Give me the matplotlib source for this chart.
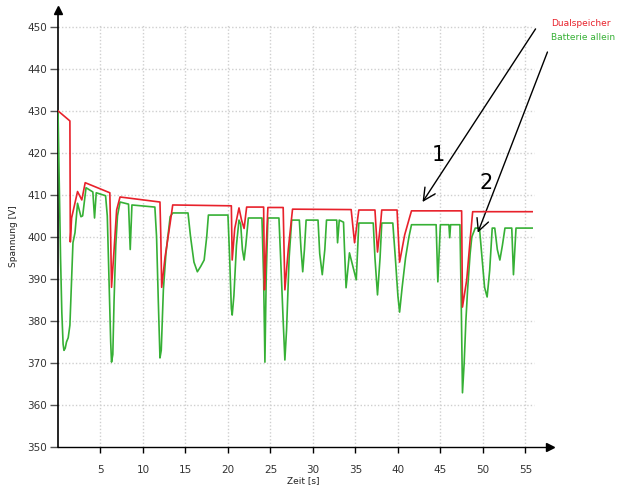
import matplotlib
matplotlib.use("Agg")
import matplotlib.pyplot as plt

# ---- data ----
t_dual = [0, 1.4, 1.45, 1.6, 2.3, 2.8, 3.2, 6.1, 6.2, 6.3, 6.6, 6.9, 7.3, 12.0, 12.1, 12.2,
          12.6, 13.2, 13.5, 20.4, 20.5, 20.8, 21.3, 21.6, 21.9, 22.2, 24.2, 24.3, 24.45, 24.7,
          26.5, 26.7, 27.1, 27.6, 34.5, 34.9, 35.4, 37.3, 37.6, 38.0, 38.1, 39.9, 40.2, 40.8,
          41.4, 41.6, 47.5, 47.6, 48.1, 48.5, 48.8, 55.8]
v_dual = [430, 427.6, 398.8, 404.5, 410.8, 408.8, 412.9, 410.5, 400, 388, 397, 406.4, 409.5,
          408.3, 400, 388, 395.2, 403.3, 407.6, 407.4, 394.5, 402, 406.9, 404, 402, 407.1,
          407.1, 387.4, 395, 407, 407, 387.4, 397, 406.6, 406.5, 398.6, 406.4, 406.4, 396.4,
          404, 406.4, 406.4, 394, 400.5, 404.8, 406.2, 406.2, 383.3, 389.8, 399.3, 406, 406]

t_batt = [0, 0.05, 0.15, 0.3, 0.45, 0.6, 0.7, 0.85, 1.0, 1.2, 1.4, 1.6, 1.76, 2.0, 2.3, 2.7,
          2.9, 3.3, 4.1, 4.3, 4.5, 5.6, 5.8, 6.0, 6.2, 6.3, 6.45, 6.6, 6.8, 7.0, 7.3, 8.3, 8.5,
          8.7, 11.4, 11.6, 11.8, 12.0, 12.15, 12.4, 12.7, 13.2, 13.5, 15.3, 15.6, 16.0, 16.4,
          16.8, 17.2, 17.5, 17.7, 20.0, 20.2, 20.4, 20.5, 20.7, 21.0, 21.3, 21.5, 21.7, 21.9,
          22.1, 22.4, 24.0, 24.2, 24.35, 24.5, 24.7, 26.0, 26.2, 26.5, 26.7, 26.9, 27.2, 27.5,
          28.4, 28.6, 28.8, 29.0, 29.2, 30.6, 30.8, 31.1, 31.4, 31.6, 32.8, 32.9, 33.1, 33.6,
          33.7, 33.9, 34.3, 34.7, 35.1, 35.4, 37.1, 37.3, 37.6, 37.9, 38.1, 39.4, 39.7, 40.0,
          40.2, 40.5, 40.9, 41.3, 41.6, 44.5, 44.7, 45.0, 46.0, 46.1, 46.2, 47.3, 47.45, 47.6,
          47.8, 48.0, 48.2, 48.5, 48.7, 49.1, 49.6, 49.9, 50.2, 50.5, 50.8, 51.1, 51.4, 51.7,
          52.0, 52.3, 52.6, 53.4, 53.6, 53.9, 55.8]
v_batt = [430, 424, 412, 395, 382, 374.5, 373, 373.5, 375, 376, 379, 390, 398.6, 401, 408,
          404.8, 405, 411.7, 410.7, 404.5, 410.5, 409.8, 405, 390, 375, 370.2, 372, 385, 398,
          405, 408.3, 407.8, 397, 407.6, 407.1, 400, 385, 371.2, 373, 387.4, 396, 404.8, 405.7,
          405.7, 400, 394, 391.7, 393, 394.5, 400, 405.2, 405.2, 395, 383, 381.4, 386, 398,
          404, 403, 397, 394.5, 398, 404.5, 404.5, 390, 370.2, 390, 404.5, 404.5, 395, 380,
          370.7, 378, 395, 404, 404, 397, 391.7, 397, 404, 404, 396, 391, 397, 404, 404, 398.6,
          404, 403.5, 398, 387.9, 396.2, 393, 389.8, 403.3, 403.3, 395, 386.2, 395, 403.3,
          403.3, 395, 386, 382.1, 388, 395, 400, 402.9, 402.9, 389.3, 402.9, 402.9, 399.8,
          402.9, 402.9, 385, 362.9, 370, 380, 387.4, 396, 400, 402.1, 402.1, 395, 388, 385.7,
          392, 402.1, 402.1, 397, 394.5, 398, 402.1, 402.1, 391, 402.1, 402.1]

x_ticks = [5, 10, 15, 20, 25, 30, 35, 40, 45, 50, 55]
y_ticks = [350, 360, 370, 380, 390, 400, 410, 420, 430, 440, 450]
series_names = ["Dualspeicher", "Batterie allein"]
x_label = "Zeit [s]"
y_label = "Spannung [V]"

RED = "#e8212b"
GREEN = "#36b035"

fig = plt.figure(figsize=(6.18, 4.88), dpi=100)
W, H = 618, 488
ax = fig.add_axes([58 / W, 1 - 447 / H, (550 - 58) / W, (447 - 10) / H])
ax.set_xlim(0, 57.9)
ax.set_ylim(350, 454)

# grid
grid_kw = dict(color="#cfcfcf", lw=1.0, linestyle=(0, (1, 1.5)), zorder=0)
ax.hlines(y_ticks[1:], 0, 56.0, **grid_kw)
ax.vlines(x_ticks, 350, 450.5, **grid_kw)

ax.plot(t_batt, v_batt, color=GREEN, lw=1.2, zorder=3)
ax.plot(t_dual, v_dual, color=RED, lw=1.2, zorder=4)

# spines
for s in ["top", "right"]:
    ax.spines[s].set_visible(False)
ax.spines["left"].set_color("black")
ax.spines["left"].set_linewidth(1.2)
ax.spines["bottom"].set_color("black")
ax.spines["bottom"].set_linewidth(1.0)
ax.spines["bottom"].set_linestyle((0, (2, 1)))
ax.plot([0], [454], marker="^", color="black", markersize=6, clip_on=False, zorder=6)
ax.plot([57.9], [350], marker=">", color="black", markersize=6, clip_on=False, zorder=6)

ax.set_xticks(x_ticks)
ax.set_yticks(y_ticks)
ax.tick_params(axis="x", direction="out", length=4, width=1, pad=9, labelsize=7.5,
               labelcolor="#333333", color="black")
ax.tick_params(axis="y", direction="out", length=6, width=1, pad=2, labelsize=7.5,
               labelcolor="#333333", color="#555555")

fig.text(13 / W, 1 - 236 / H, y_label, rotation=90, ha="center", va="center",
         fontsize=6.5, color="#222222")
fig.text(303 / W, 1 - 481 / H, x_label, ha="center", va="center", fontsize=6.5,
         color="#222222")

# legend texts
fig.text(551 / W, 1 - 24 / H, series_names[0], ha="left", va="center", fontsize=6.5, color=RED)
fig.text(551 / W, 1 - 37.5 / H, series_names[1], ha="left", va="center", fontsize=6.5, color=GREEN)

# annotation arrows
arrow_kw = dict(arrowstyle="->", lw=1.0, color="black", mutation_scale=22,
                shrinkA=0, shrinkB=0)
ax.annotate("", xy=(42.9, 408.3), xytext=(56.2, 449.5), arrowprops=arrow_kw,
            annotation_clip=False)
ax.annotate("", xy=(49.4, 401.0), xytext=(57.6, 444.0), arrowprops=arrow_kw,
            annotation_clip=False)
ax.text(44.7, 419.5, "1", fontsize=15, ha="center", va="center", color="black")
ax.text(50.35, 412.9, "2", fontsize=15, ha="center", va="center", color="black")

fig.savefig("out.png", dpi=100)
